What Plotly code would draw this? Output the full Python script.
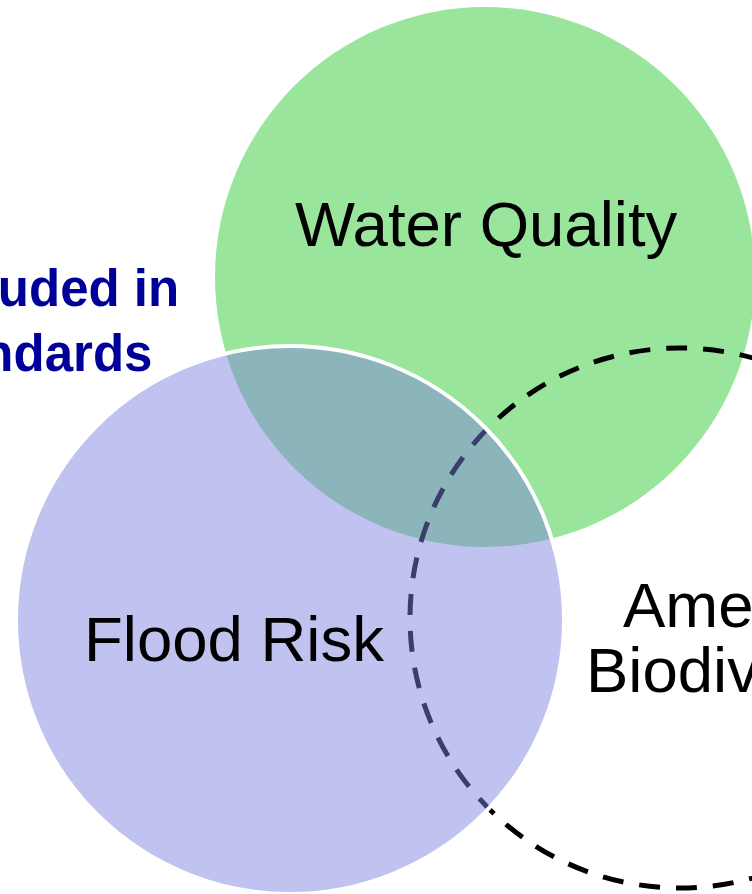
import plotly.graph_objects as go

# Venn circles (centre x, centre y, radius) in picture units
circle_names = ["Water Quality", "Amenity & Biodiversity", "Flood Risk"]
circle_cx = [485, 680, 290]
circle_cy = [277, 618, 620]
circle_r = [270, 270, 274]

# Labels
label_texts = ["Water Quality", "Flood Risk", "Amenity &", "Biodiversity"]
label_x = [486, 82, 621, 584]
label_y = [224, 639, 605, 670]
label_anchor = ["center", "left", "left", "left"]

note_texts = ["Included in", "Standards"]
note_x = [181, 154]
note_y = [288, 353]

FONT = "Liberation Sans, Arial, sans-serif"

fig = go.Figure()

shapes = []
# Water Quality (green, solid)
i = 0
shapes.append(dict(type="circle", xref="x", yref="y",
                   x0=circle_cx[i] - circle_r[i], x1=circle_cx[i] + circle_r[i],
                   y0=circle_cy[i] - circle_r[i], y1=circle_cy[i] + circle_r[i],
                   fillcolor="#99e59b", line=dict(width=0), layer="above"))
# Amenity & Biodiversity (dashed outline, no fill)
i = 1
shapes.append(dict(type="circle", xref="x", yref="y",
                   x0=circle_cx[i] - circle_r[i], x1=circle_cx[i] + circle_r[i],
                   y0=circle_cy[i] - circle_r[i], y1=circle_cy[i] + circle_r[i],
                   fillcolor="rgba(0,0,0,0)",
                   line=dict(color="black", width=5, dash="21px,16px"), layer="above"))
# Flood Risk (translucent purple, white border)
i = 2
shapes.append(dict(type="circle", xref="x", yref="y",
                   x0=circle_cx[i] - circle_r[i], x1=circle_cx[i] + circle_r[i],
                   y0=circle_cy[i] - circle_r[i], y1=circle_cy[i] + circle_r[i],
                   fillcolor="rgba(124,128,222,0.48)",
                   line=dict(color="white", width=4), layer="above"))

annotations = []
for t, x, y, a in zip(label_texts, label_x, label_y, label_anchor):
    annotations.append(dict(text=t, x=x, y=y, xref="x", yref="y", showarrow=False,
                            xanchor=a, yanchor="middle",
                            font=dict(family=FONT, size=63.5, color="black")))
for t, x, y in zip(note_texts, note_x, note_y):
    annotations.append(dict(text="<b>" + t + "</b>", x=x, y=y, xref="x", yref="y",
                            showarrow=False, xanchor="right", yanchor="middle",
                            font=dict(family=FONT, size=51, color="#000099")))

fig.update_layout(
    width=752, height=894,
    margin=dict(l=0, r=0, t=0, b=0),
    paper_bgcolor="white", plot_bgcolor="white",
    xaxis=dict(range=[0, 752], visible=False, fixedrange=True),
    yaxis=dict(range=[894, 0], visible=False, fixedrange=True),
    shapes=shapes, annotations=annotations, showlegend=False,
)
fig.add_trace(go.Scatter(x=[0, 752], y=[0, 894], mode="markers",
                         marker=dict(opacity=0), hoverinfo="skip"))

fig.write_html("out.html")
